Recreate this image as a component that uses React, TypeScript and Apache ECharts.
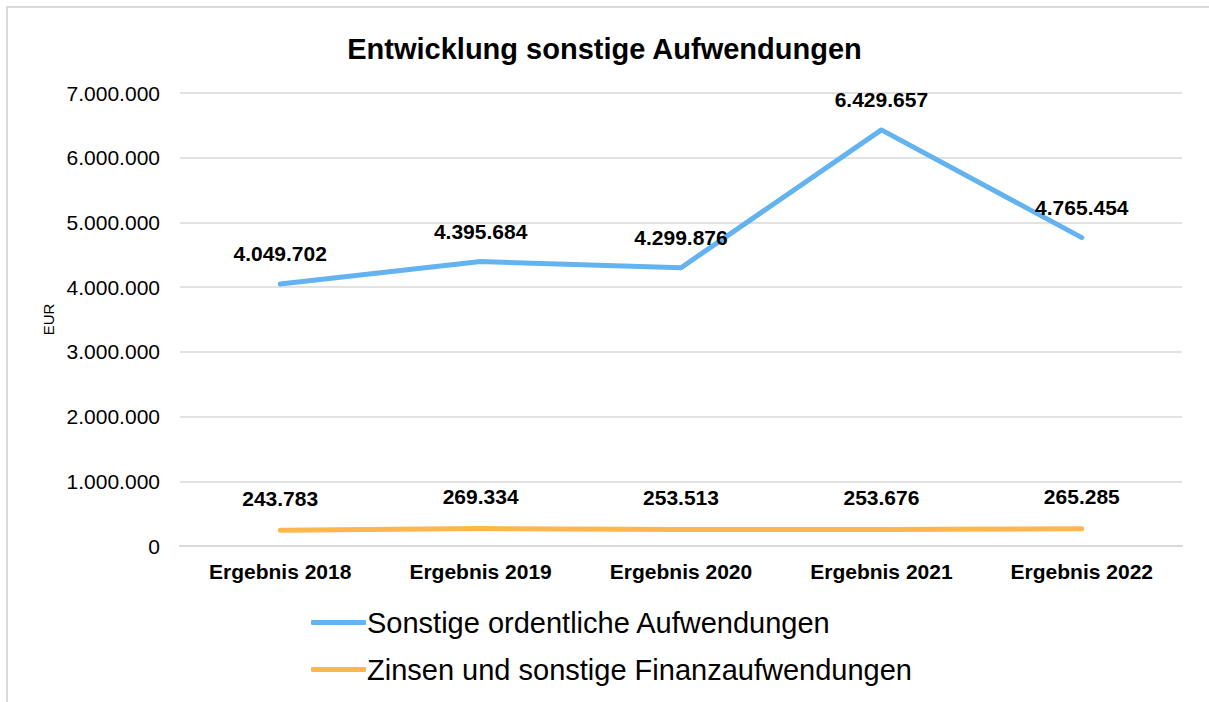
import React, { useEffect, useRef } from "react";
import * as echarts from "echarts";

const categories = ["Ergebnis 2018", "Ergebnis 2019", "Ergebnis 2020", "Ergebnis 2021", "Ergebnis 2022"];
const sonstigeOrdentliche = [4049702, 4395684, 4299876, 6429657, 4765454];
const zinsen = [243783, 269334, 253513, 253676, 265285];
const seriesNames = ["Sonstige ordentliche Aufwendungen", "Zinsen und sonstige Finanzaufwendungen"];

const fmt = (v: number) => String(Math.round(v)).replace(/\B(?=(\d{3})+(?!\d))/g, ".");

const FONT = "'Liberation Sans', Arial, sans-serif";

export default function App() {
  const ref = useRef<HTMLDivElement>(null);
  useEffect(() => {
    if (!ref.current) return;
    const chart = echarts.init(ref.current, null, { renderer: "svg" });
    chart.setOption({
      animation: false,
      textStyle: { fontFamily: FONT },
      title: {
        text: "Entwicklung sonstige Aufwendungen",
        left: "center",
        top: 29,
        textStyle: { fontFamily: FONT, fontSize: 29, fontWeight: "bold", color: "#000" },
      },
      graphic: [
        {
          type: "rect",
          shape: { x: 7, y: 7, width: 1215, height: 710 },
          style: { fill: "none", stroke: "#d9d9d9", lineWidth: 2 },
          silent: true,
        },
      ],
      legend: {
        orient: "vertical",
        left: 306,
        top: 603,
        itemGap: 18,
        itemWidth: 55,
        itemHeight: 5,
        icon: "roundRect",
        textStyle: { fontFamily: FONT, fontSize: 29, color: "#000", padding: [0, 0, 0, -4] },
        data: seriesNames,
      },
      grid: { left: 180, right: 27, top: 93, bottom: 156, containLabel: false },
      xAxis: {
        type: "category",
        data: categories,
        boundaryGap: true,
        axisLine: { lineStyle: { color: "#d9d9d9", width: 2 } },
        axisTick: { show: false },
        axisLabel: { fontFamily: FONT, fontSize: 21, fontWeight: "bold", color: "#000", margin: 15 },
      },
      yAxis: {
        type: "value",
        min: 0,
        max: 7000000,
        interval: 1000000,
        name: "EUR",
        nameLocation: "middle",
        nameGap: 124,
        nameRotate: 90,
        nameTextStyle: { fontFamily: FONT, fontSize: 15, color: "#000" },
        axisLine: { show: false },
        axisTick: { show: false },
        splitLine: { lineStyle: { color: "#d9d9d9", width: 1.5 } },
        axisLabel: { fontFamily: FONT, fontSize: 21, color: "#000", margin: 20, formatter: (v: number) => fmt(v) },
      },
      series: [
        {
          name: seriesNames[0],
          type: "line",
          data: sonstigeOrdentliche,
          symbol: "circle",
          symbolSize: 1,
          showSymbol: true,
          itemStyle: { color: "#63B3F0" },
          lineStyle: { color: "#63B3F0", width: 5, cap: "round", join: "round" },
          label: {
            show: true,
            position: "top",
            distance: 19,
            fontFamily: FONT,
            fontSize: 21,
            fontWeight: "bold",
            color: "#000",
            formatter: (p: any) => fmt(p.value),
          },
        },
        {
          name: seriesNames[1],
          type: "line",
          data: zinsen,
          symbol: "circle",
          symbolSize: 1,
          showSymbol: true,
          itemStyle: { color: "#FFB74D" },
          lineStyle: { color: "#FFB74D", width: 5, cap: "round", join: "round" },
          label: {
            show: true,
            position: "top",
            distance: 21,
            fontFamily: FONT,
            fontSize: 21,
            fontWeight: "bold",
            color: "#000",
            formatter: (p: any) => fmt(p.value),
          },
        },
      ],
    });
    return () => chart.dispose();
  }, []);
  return (
    <div
      ref={ref}
      style={{ position: "absolute", left: 0, top: 0, width: 1209, height: 702, background: "#fff" }}
    />
  );
}
